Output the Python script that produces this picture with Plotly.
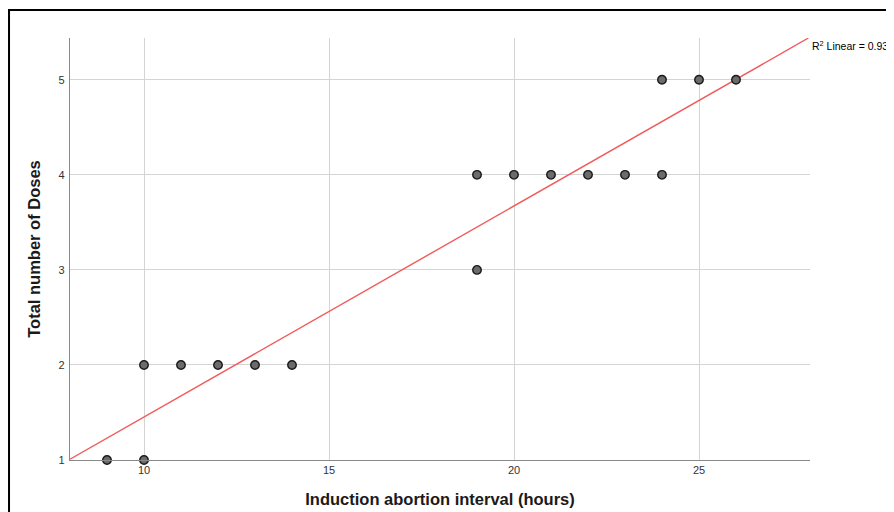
import numpy as np
import plotly.graph_objects as go

# Data
interval_hours = [9, 10, 10, 11, 12, 13, 14, 19, 19, 20, 21, 22, 23, 24, 24, 25, 26]
total_doses = [1, 1, 2, 2, 2, 2, 2, 3, 4, 4, 4, 4, 4, 4, 5, 5, 5]
x_ticks = [10, 15, 20, 25]
y_ticks = [1, 2, 3, 4, 5]
x_range = [8, 28]
y_range = [1, 5.44]

# Linear fit
xa = np.array(interval_hours, dtype=float)
ya = np.array(total_doses, dtype=float)
m, b = np.polyfit(xa, ya, 1)
r2 = np.corrcoef(xa, ya)[0, 1] ** 2
x0 = max(x_range[0], (y_range[0] - b) / m)
x1 = min(x_range[1], (y_range[1] - b) / m)
fit_x = [x0, x1]
fit_y = [m * x0 + b, m * x1 + b]

FONT = "Liberation Sans, Arial, sans-serif"

fig = go.Figure()
fig.add_trace(go.Scatter(
    x=fit_x, y=fit_y, mode="lines",
    line=dict(color="#f05a5a", width=1.4),
    hoverinfo="skip", showlegend=False, cliponaxis=False,
))
fig.add_trace(go.Scatter(
    x=interval_hours, y=total_doses, mode="markers",
    marker=dict(size=8.5, color="#6b6b6b", line=dict(color="#1a1a1a", width=1.4)),
    showlegend=False, cliponaxis=False,
))

fig.add_annotation(
    x=x_range[1], y=fit_y[1], xref="x", yref="y",
    text=f"R<sup>2</sup> Linear = {r2:.2f}",
    showarrow=False, xanchor="left", yanchor="middle", xshift=0, yshift=-7,
    font=dict(family=FONT, size=10.5, color="#000"),
)

# outer frame (figure sits 8px inside the page)
fig.add_shape(type="rect", xref="paper", yref="paper",
              x0=-0.0824, x1=1.3, y0=-0.3, y1=1.0664,
              line=dict(color="black", width=2), layer="below")

fig.update_layout(
    width=894, height=512,
    margin=dict(l=62, r=92, t=30, b=60),
    paper_bgcolor="white", plot_bgcolor="white",
    font=dict(family=FONT, color="#333"),
    xaxis=dict(
        range=x_range, tickvals=x_ticks, showgrid=True, gridcolor="#d4d4d4", gridwidth=1,
        showline=True, linecolor="#8a8a8a", linewidth=1.3, ticks="", zeroline=False,
        tickfont=dict(size=11, color="#333"), automargin=False,
        title=dict(text="<b>Induction abortion interval (hours)</b>", standoff=18,
                   font=dict(size=16.5, color="#1a1a1a")),
    ),
    yaxis=dict(
        range=y_range, tickvals=y_ticks, showgrid=True, gridcolor="#d4d4d4", gridwidth=1,
        showline=True, linecolor="#8a8a8a", linewidth=1.3, ticks="", zeroline=False,
        tickfont=dict(size=11, color="#333"), ticklabelstandoff=2, automargin=False,
        title=dict(text="<b>Total number of Doses</b>", standoff=13,
                   font=dict(size=16.5, color="#1a1a1a")),
    ),
)

fig.write_html("out.html")
